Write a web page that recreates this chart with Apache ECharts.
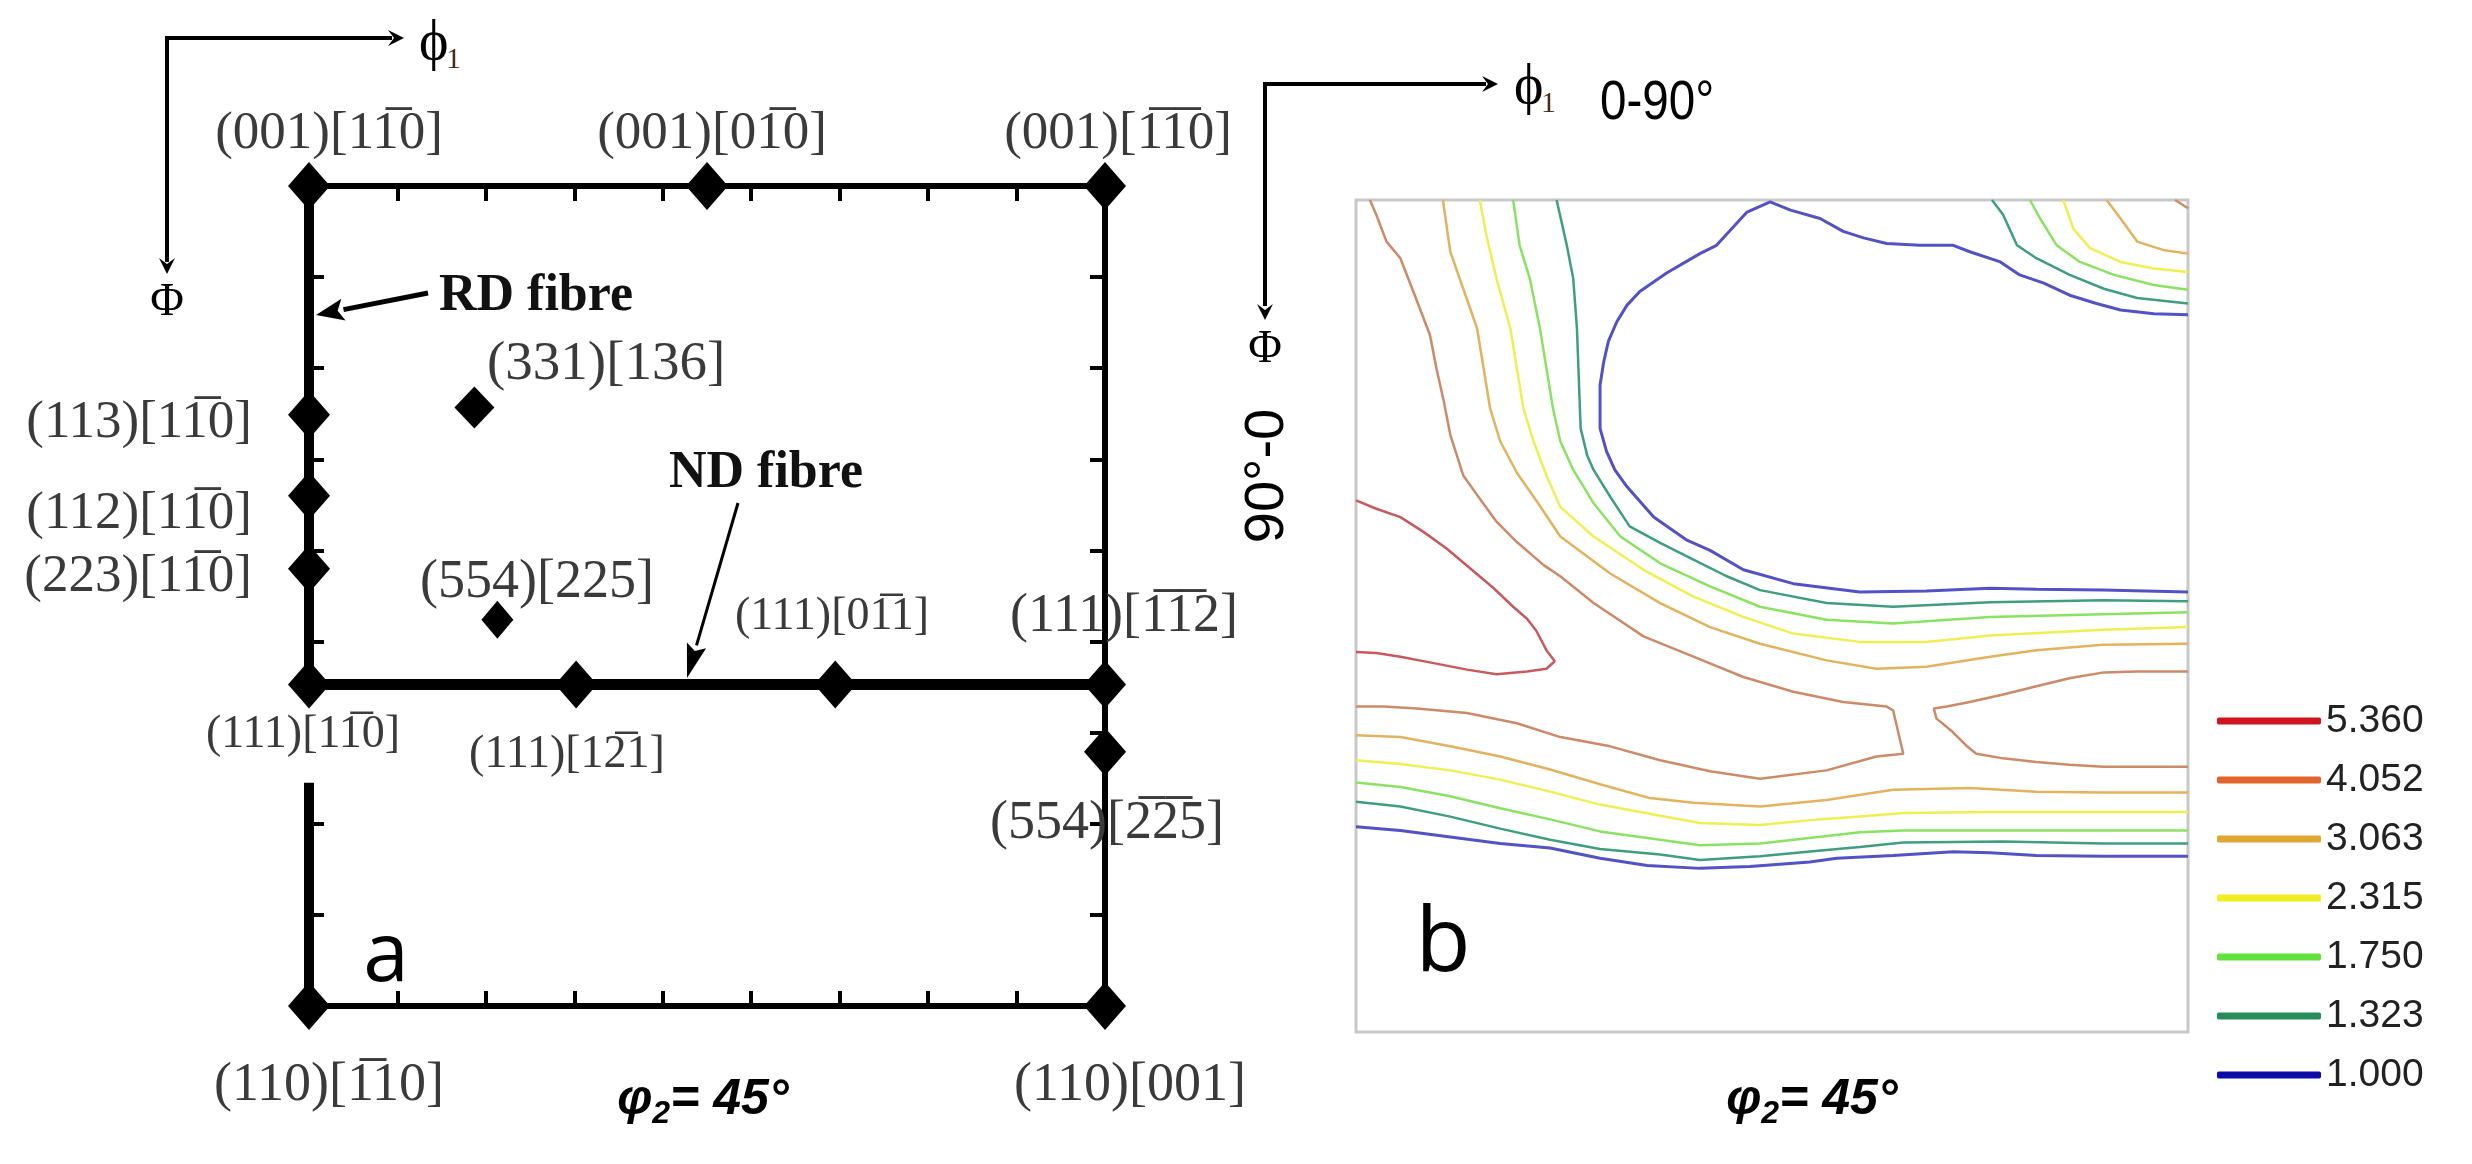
<!DOCTYPE html>
<html>
<head>
<meta charset="utf-8">
<script src="https://cdn.jsdelivr.net/npm/echarts@6/dist/echarts.min.js"></script>
<style>
html, body { margin: 0; padding: 0; background: #fff; }
#odf { width: 2472px; height: 1164px; }
</style>
</head>
<body>
<div id="odf"></div>
<script>
// ---- panel a : ideal orientations (phi1, PHI) at phi2 = 45 ----
var fibreDiamonds = [[0,0],[45,0],[90,0],[0,25.1],[0,34],[0,42],[0,54.7],[30.2,54.7],[59.5,54.7],[90,54.7],[90,62.1],[0,90],[90,90]];
var diamond331 = [[18.7,24.3]];
var diamond554 = [[21.3,47.6]];
var rdFibre = [[0,0],[0,54.7]];
var leftEdgeLow = [[0,65.5],[0,90]];
var ndFibre = [[0,54.7],[90,54.7]];
var leftTicks = [10,20,30,40,50,70,80];

// ---- panel b : contour levels ----
var levels = ['5.360','4.052','3.063','2.315','1.750','1.323','1.000'];
var legendColors = ['#d0141e','#e0642c','#e0a532','#f0ee1e','#62e03c','#2a8c5c','#0c0ca8'];
var lineColors = ['#c85a5e','#cc8a68','#e2b25e','#efee52','#8ae262','#3e9e7e','#5252c4'];

// contour polylines, [phi1, PHI] in degrees
var c5360 = [[0,32.5],[2.2,33.4],[4.8,34.3],[7.3,35.9],[9.8,37.7],[12.3,39.8],[14.9,42],[17,44],[18.5,45.3],[19.5,46.6],[20.6,48.7],[21.5,49.9],[20.6,50.7],[18.5,51],[15.2,51.3],[12,50.8],[8.4,50.1],[4.8,49.4],[2.2,49],[0,48.9]];
var c4052main = [[1.5,0],[2.2,1.6],[3.3,4.5],[4.8,6.3],[6.2,9.9],[8,14.6],[8.7,18.2],[9.5,21.8],[10.2,25.4],[11.6,29.8],[13.1,31.9],[15.2,34.8],[17.4,37],[20.3,39.5],[22.1,40.7],[25.7,43.6],[31.1,47.2],[36.5,49.4],[41.9,51.6],[47.3,53.2],[52.7,54.3],[57.4,54.8],[58.1,55.2],[59.2,59.9],[56.3,60.2],[50.9,61.7],[43.7,62.6],[38.3,61.8],[32.9,60.6],[27.5,59.1],[22.1,58.1],[17.4,56.6],[12,55.5],[6.6,55],[3,54.8],[0,54.8]];
var c4052right = [[90,51],[84.5,51],[80.9,51.1],[77.3,51.7],[73.6,52.6],[70,53.5],[66.4,54.3],[63.9,54.8],[62.5,55],[62.8,56.1],[64.5,57.5],[66,59],[67.1,59.9],[70,60.4],[73.6,60.8],[77.2,61.1],[80.8,61.3],[90,61.3]];
var c4052corner = [[88.6,0],[90,0.9]];
var c3063upper = [[9.4,0],[10.2,5.6],[11.6,9.6],[13.1,13.9],[13.8,18.2],[14.5,22.5],[15.6,26.1],[17.4,29.5],[19.5,32.5],[22.1,36.4],[27.5,40.4],[32.9,43.6],[38.3,46.2],[43.7,48],[50.9,49.8],[56.3,50.7],[61.7,50.5],[68.6,49.4],[73.6,48.7],[80.8,48.1],[90,48]];
var c3063lower = [[0,57.9],[4.8,58.1],[10.2,59.1],[15.6,60.2],[21,61.6],[26.4,63.2],[31.8,64.7],[36.5,65.2],[43.7,65.6],[50.9,64.9],[58.1,63.8],[66.4,63.6],[73.6,64],[80.8,64.1],[90,64.1]];
var c3063corner = [[81.2,0],[82.7,2],[84.5,4.5],[87.3,5.4],[90,5.8]];
var c2315upper = [[13.4,0],[14.1,3.8],[15.2,8.5],[16.7,13.9],[17.4,18.2],[18.1,22.5],[19.2,26.1],[20.6,29.8],[22.1,33.2],[25.7,36.4],[31.1,40],[36.5,42.9],[41.9,45.1],[47.3,46.9],[54.5,47.8],[61.7,47.8],[68.6,47.1],[80.8,46.5],[90,46.2]];
var c2315lower = [[0,60.6],[4.8,61],[10.2,61.7],[15.6,62.7],[21,64],[26.4,65.4],[32.9,66.6],[37.2,67.4],[43.7,67.6],[50,67],[54.5,66.7],[59.2,66.3],[68.6,66.2],[80.8,66.2],[90,66.2]];
var c2315corner = [[76.5,0],[77.6,3.1],[79.4,5.2],[82.7,6.7],[86.3,7.4],[90,7.8]];
var c1750upper = [[17,0],[17.7,4.9],[18.8,8.5],[19.9,13.9],[20.6,18.2],[21.3,22.5],[22.1,26.1],[23.5,29.2],[25.7,32.8],[28.6,36.4],[32.9,39.3],[38.3,41.8],[43.7,44],[50.9,45.4],[58.1,45.8],[68.6,45.1],[80.8,44.8],[90,44.6]];
var c1750lower = [[0,63],[4.8,63.5],[10.2,64.5],[15.6,65.8],[21,67],[26.4,68.3],[32.9,69.2],[37.2,69.8],[43.7,69.6],[50,68.9],[54.5,68.4],[59.2,68.2],[70,68.2],[80.8,68.2],[90,68.2]];
var c1750corner = [[72.9,0],[74,2],[75.8,4.9],[78.3,6.7],[82,8.1],[86.3,9.2],[90,9.7]];
var c1323upper = [[21.7,0],[22.8,4.9],[23.5,8.5],[23.9,13.9],[24.1,19.3],[24.3,24.7],[25,27.6],[25.7,29.2],[27.5,32.1],[29.6,35.3],[32.9,37.1],[36.5,38.9],[40.1,40.7],[43.7,42.2],[50.9,43.6],[58.1,44],[68.6,43.5],[80.8,43.3],[90,43.4]];
var c1323lower = [[0,65.1],[4.8,65.6],[10.2,66.7],[15.6,68],[21,69.2],[26.4,70.2],[32.9,70.8],[37.2,71.4],[43.7,71],[50,70.4],[54.5,70],[59.2,69.5],[70,69.4],[80.8,69.6],[90,69.6]];
var c1323corner = [[68.8,0],[70,1.6],[71.5,4.9],[73.6,6.3],[77.2,8.1],[80.9,9.6],[84.5,10.6],[90,11.2]];
var c1000upper = [[90,12.4],[86.3,12.3],[82.7,11.9],[80.1,11.2],[77.2,10.3],[74.4,9],[71.8,8.1],[69.7,6.7],[66.4,5.6],[64.6,4.9],[61,4.9],[57.4,4.7],[54.9,4.1],[52.7,3.4],[50.2,2],[47,1.1],[44.8,0.2],[42.3,1.3],[39,4.9],[37.2,5.8],[33.6,7.9],[30.7,9.9],[29.3,11.4],[28.2,13.2],[27.3,15.3],[26.8,17.5],[26.4,20],[26.4,24.7],[27.1,27.2],[28,29.2],[29.3,31],[32.2,34.3],[35.8,36.8],[38.3,37.9],[41.9,40],[47.3,41.5],[54.5,42.4],[61.7,42.3],[68.6,42],[73.6,42.1],[80.8,42.2],[90,42.4]];
var c1000lower = [[0,67.8],[4.8,68.2],[10.2,68.9],[15.6,69.6],[21,70.1],[26.4,71.2],[31.5,72],[37.2,72.3],[42.6,72.1],[49.1,71.6],[52,71.2],[58.1,70.9],[64.6,70.5],[68.6,70.6],[73.6,70.9],[80.8,71],[90,71]];

var contours = [
    [0, c5360],
    [1, c4052main], [1, c4052right], [1, c4052corner],
    [2, c3063upper], [2, c3063lower], [2, c3063corner],
    [3, c2315upper], [3, c2315lower], [3, c2315corner],
    [4, c1750upper], [4, c1750lower], [4, c1750corner],
    [5, c1323upper], [5, c1323lower], [5, c1323corner],
    [6, c1000upper], [6, c1000lower]
];

var serifFont = 'Liberation Serif';
var labelColor = '#3a3a3a';

var myChart = echarts.init(document.getElementById('odf'));

function frameAxis(pos, extra) {
    var ax = {
        gridIndex: 0, type: 'value', position: pos, min: 0, max: 90, interval: 10,
        axisLine: { show: true, onZero: false, lineStyle: { color: '#000', width: 6 } },
        axisTick: { show: true, inside: true, length: 15, lineStyle: { color: '#000', width: 4 } },
        axisLabel: { show: false },
        splitLine: { show: false }
    };
    return Object.assign(ax, extra || {});
}

function hiddenAxis(inverse) {
    return {
        gridIndex: 1, type: 'value', min: 0, max: 90, inverse: inverse,
        axisLine: { show: false }, axisTick: { show: false },
        axisLabel: { show: false }, splitLine: { show: false }
    };
}

// crystal orientation labels: [text, x, y, align, size]
var OL = '\u0305';
var orientLabels = [
    ['(001)[11' + OL + '0]', 329, 134, 'center', 53],
    ['(001)[01' + OL + '0]', 712, 134, 'center', 53],
    ['(001)[1' + OL + '1' + OL + '0]', 1118, 134, 'center', 53],
    ['(113)[11' + OL + '0]', 252, 423, 'right', 53],
    ['(112)[11' + OL + '0]', 252, 514, 'right', 53],
    ['(223)[11' + OL + '0]', 252, 577, 'right', 53],
    ['(331)[136]', 487, 365, 'left', 55],
    ['(554)[225]', 537, 583, 'center', 54],
    ['(111)[11' + OL + '0]', 303, 735, 'center', 46],
    ['(111)[12' + OL + '1]', 567, 755, 'center', 46],
    ['(111)[01' + OL + '1]', 832, 617, 'center', 46],
    ['(111)[1' + OL + '1' + OL + '2]', 1124, 617, 'center', 54],
    ['(554)[2' + OL + '2' + OL + '5]', 1107, 824, 'center', 54],
    ['(110)[1' + OL + '10]', 329, 1086, 'center', 54],
    ['(110)[001]', 1130, 1086, 'center', 54]
];

var graphics = [];
orientLabels.forEach(function (l) {
    graphics.push({
        type: 'text', x: l[1], y: l[2], z: 10,
        style: { text: l[0], fontFamily: serifFont, fontSize: l[4], fill: labelColor, align: l[3], verticalAlign: 'middle' }
    });
});

function arrow(x1, y1, x2, y2, w, headLen, headW) {
    var dx = x2 - x1, dy = y2 - y1, len = Math.sqrt(dx * dx + dy * dy);
    var ux = dx / len, uy = dy / len;
    var bx = x2 - ux * headLen, by = y2 - uy * headLen;
    graphics.push({ type: 'line', z: 10, shape: { x1: x1, y1: y1, x2: bx, y2: by }, style: { stroke: '#000', lineWidth: w } });
    graphics.push({ type: 'polygon', z: 10, shape: { points: [[x2, y2], [bx - uy * headW, by + ux * headW], [bx + ux * 6, by + uy * 6], [bx + uy * headW, by - ux * headW]] }, style: { fill: '#000' } });
}

// axis direction arrows, panel a
graphics.push({ type: 'line', z: 10, shape: { x1: 167, y1: 38, x2: 392, y2: 38 }, style: { stroke: '#000', lineWidth: 4 } });
arrow(380, 38, 404, 38, 4, 16, 8);
graphics.push({ type: 'line', z: 10, shape: { x1: 167, y1: 36, x2: 167, y2: 262 }, style: { stroke: '#000', lineWidth: 4 } });
arrow(167, 250, 167, 274, 4, 16, 8);
graphics.push({ type: 'text', x: 419, y: 44, style: { text: '\u03d5', fontFamily: serifFont, fontSize: 56, fill: '#000', align: 'left', verticalAlign: 'middle' } });
graphics.push({ type: 'text', x: 446, y: 60, style: { text: '1', fontFamily: serifFont, fontSize: 30, fill: '#4a2a10', align: 'left', verticalAlign: 'middle' } });
graphics.push({ type: 'text', x: 167, y: 303, style: { text: '\u03a6', fontFamily: serifFont, fontSize: 46, fill: '#000', align: 'center', verticalAlign: 'middle' } });

// RD / ND fibre annotations
graphics.push({ type: 'text', x: 439, y: 297, style: { text: 'RD fibre', fontFamily: serifFont, fontWeight: 'bold', fontSize: 52, fill: '#111', align: 'left', verticalAlign: 'middle' } });
arrow(428, 293, 316, 315, 5, 28, 11);
graphics.push({ type: 'text', x: 669, y: 474, style: { text: 'ND fibre', fontFamily: serifFont, fontWeight: 'bold', fontSize: 52, fill: '#111', align: 'left', verticalAlign: 'middle' } });
arrow(738, 503, 687, 678, 3, 34, 10);

// panel letters and phi2 captions
graphics.push({ type: 'text', x: 386, y: 958, style: { text: 'a', fontFamily: 'Open Sans', fontSize: 82, fill: '#000', align: 'center', verticalAlign: 'middle' } });
graphics.push({ type: 'text', x: 1443, y: 945, style: { text: 'b', fontFamily: 'Open Sans', fontSize: 90, fill: '#000', align: 'center', verticalAlign: 'middle' } });
[703, 1812].forEach(function (cx) {
    graphics.push({
        type: 'text', x: cx, y: 1100,
        style: {
            text: '{a|\u03c6}{s|2}{a|= 45\u00b0}', align: 'center', verticalAlign: 'middle',
            rich: {
                a: { fontFamily: 'Liberation Sans', fontStyle: 'italic', fontWeight: 'bold', fontSize: 50, lineHeight: 60, fill: '#000' },
                s: { fontFamily: 'Liberation Sans', fontStyle: 'italic', fontWeight: 'bold', fontSize: 32, lineHeight: 40, verticalAlign: 'bottom', fill: '#000' }
            }
        }
    });
});

// axis direction arrows, panel b
graphics.push({ type: 'line', z: 10, shape: { x1: 1265, y1: 84, x2: 1486, y2: 84 }, style: { stroke: '#000', lineWidth: 4 } });
arrow(1474, 84, 1498, 84, 4, 16, 8);
graphics.push({ type: 'line', z: 10, shape: { x1: 1265, y1: 82, x2: 1265, y2: 306 }, style: { stroke: '#000', lineWidth: 4 } });
arrow(1265, 296, 1265, 320, 4, 16, 8);
graphics.push({ type: 'text', x: 1514, y: 88, style: { text: '\u03d5', fontFamily: serifFont, fontSize: 56, fill: '#000', align: 'left', verticalAlign: 'middle' } });
graphics.push({ type: 'text', x: 1541, y: 104, style: { text: '1', fontFamily: serifFont, fontSize: 30, fill: '#4a2a10', align: 'left', verticalAlign: 'middle' } });
graphics.push({ type: 'text', x: 1600, y: 104, scaleX: 0.85, style: { text: '0-90\u00b0', fontFamily: 'Liberation Sans', fontSize: 56, fill: '#000', align: 'left', verticalAlign: 'middle' } });
graphics.push({ type: 'text', x: 1265, y: 350, style: { text: '\u03a6', fontFamily: serifFont, fontSize: 46, fill: '#000', align: 'center', verticalAlign: 'middle' } });
graphics.push({ type: 'text', x: 1268, y: 476, rotation: Math.PI / 2, style: { text: '90\u00b0-0', fontFamily: 'Liberation Sans', fontSize: 56, fill: '#000', align: 'center', verticalAlign: 'middle' } });

var diamondStyle = { color: '#000', opacity: 1 };
var series = [
    { type: 'line', xAxisIndex: 0, yAxisIndex: 0, data: rdFibre, symbol: 'none', clip: false, silent: true, lineStyle: { color: '#000', width: 10 }, z: 3 },
    { type: 'line', xAxisIndex: 0, yAxisIndex: 0, data: leftEdgeLow, symbol: 'none', clip: false, silent: true, lineStyle: { color: '#000', width: 10 }, z: 3 },
    { type: 'line', xAxisIndex: 0, yAxisIndex: 0, data: ndFibre, symbol: 'none', clip: false, silent: true, lineStyle: { color: '#000', width: 11 }, z: 3 },
    { type: 'scatter', xAxisIndex: 0, yAxisIndex: 0, data: fibreDiamonds, symbol: 'diamond', symbolSize: [42, 48], clip: false, silent: true, itemStyle: diamondStyle, z: 5 },
    { type: 'scatter', xAxisIndex: 0, yAxisIndex: 0, data: diamond331, symbol: 'diamond', symbolSize: [40, 42], clip: false, silent: true, itemStyle: diamondStyle, z: 5 },
    { type: 'scatter', xAxisIndex: 0, yAxisIndex: 0, data: diamond554, symbol: 'diamond', symbolSize: [32, 38], clip: false, silent: true, itemStyle: diamondStyle, z: 5 }
];

contours.forEach(function (c) {
    var lv = c[0];
    series.push({
        type: 'line', name: levels[lv], xAxisIndex: 2, yAxisIndex: 2,
        data: c[1], symbol: 'none', showSymbol: false, silent: true,
        itemStyle: { color: legendColors[lv] },
        lineStyle: { color: lineColors[lv], width: lv === 6 ? 3 : 2.5 }
    });
});

var option = {
    backgroundColor: '#fff',
    animation: false,
    grid: [
        { left: 309, top: 186, width: 796, height: 820, outerBoundsMode: 'none' },
        { left: 1356, top: 200, width: 832, height: 832, show: true, borderColor: '#c8c8c8', borderWidth: 3, backgroundColor: '#fff', outerBoundsMode: 'none' }
    ],
    xAxis: [
        frameAxis('top'),
        frameAxis('bottom'),
        hiddenAxis(false)
    ],
    yAxis: [
        frameAxis('left', { inverse: true, axisLine: { show: false, onZero: false }, axisTick: { show: true, inside: true, length: 15, customValues: leftTicks, lineStyle: { color: '#000', width: 4 } } }),
        frameAxis('right', { inverse: true, axisTick: { show: true, inside: true, length: 15, customValues: leftTicks.concat([60]), lineStyle: { color: '#000', width: 4 } } }),
        hiddenAxis(true)
    ],
    legend: {
        data: levels.map(function (l, i) { return { name: l, itemStyle: { color: legendColors[i] } }; }),
        orient: 'vertical', left: 2212, top: 696,
        icon: 'roundRect', itemWidth: 104, itemHeight: 7, itemGap: 19,
        selectedMode: false,
        textStyle: { fontFamily: 'Liberation Sans', fontSize: 39, lineHeight: 40, color: '#222' }
    },
    graphic: graphics,
    series: series
};
myChart.setOption(option);
</script>
</body>
</html>
